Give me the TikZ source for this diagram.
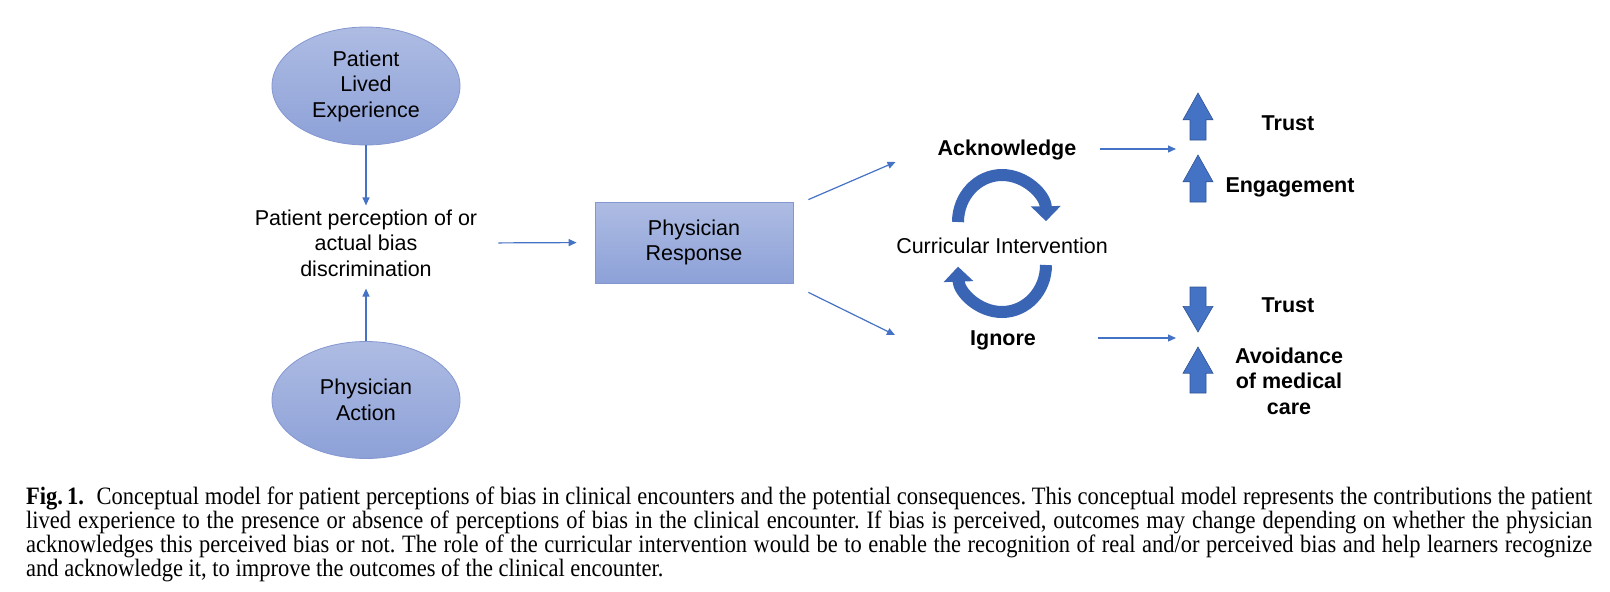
\documentclass[tikz,border=0pt]{standalone}
\usepackage{fontspec}
\setmainfont{Liberation Sans}
\newfontfamily\capfont[FakeStretch=0.9]{Liberation Serif}
\usetikzlibrary{shapes.geometric, arrows.meta, calc}

\definecolor{lineblue}{HTML}{4472C4}
\definecolor{filltop}{HTML}{AEBCE3}
\definecolor{fillbot}{HTML}{8DA1D8}
\definecolor{edgeblue}{HTML}{8497D0}
\definecolor{curlblue}{HTML}{3A64B4}
\definecolor{blockedge}{HTML}{2F5597}

\tikzset{
  bubble/.style={ellipse, draw=edgeblue, line width=0.8pt, top color=filltop, bottom color=fillbot,
    minimum width=188pt, minimum height=118pt, inner sep=0pt, align=center,
    font=\fontsize{21.5}{25.5}\selectfont},
  panel/.style={rectangle, draw=edgeblue, line width=0.8pt, top color=filltop, bottom color=fillbot,
    minimum width=198pt, minimum height=81pt, inner sep=0pt, align=center,
    font=\fontsize{21.5}{25.5}\selectfont},
  plaintext/.style={align=center, inner sep=0pt, font=\fontsize{21.5}{25.5}\selectfont},
  boldtext/.style={align=center, inner sep=0pt, font=\fontsize{21.5}{25.5}\selectfont\bfseries},
  link/.style={draw=lineblue, line width=1.2pt, -{Triangle[length=8pt,width=7pt]}},
  curl/.style={draw=curlblue, line width=12pt, -{Triangle[length=15pt,width=29pt]}},
  block/.style={fill=lineblue, draw=blockedge, line width=0.6pt},
}

% block arrow: x, tail y, tip y
\newcommand{\blockarrow}[3]{%
  \draw[block] ({#1-8},#2) -- ({#1-8},{#3+0.57*(#2-#3)}) -- ({#1-15},{#3+0.57*(#2-#3)})
    -- (#1,#3) -- ({#1+15},{#3+0.57*(#2-#3)}) -- ({#1+8},{#3+0.57*(#2-#3)}) -- ({#1+8},#2) -- cycle;}

\begin{document}
\begin{tikzpicture}[x=1pt,y=1pt,yscale=-1,xscale=1]
\useasboundingbox (0,0) rectangle (1610,592);

%Shape: Ellipse
\node[bubble] (ple) at (366,86) {Patient\\Lived\\Experience};
%Shape: Ellipse
\node[bubble, minimum height=117pt] (pa) at (366,400) {Physician\\Action};
% Text Node
\node[plaintext] (pep) at (366,243) {Patient perception of or\\actual bias\\discrimination};
%Shape: Rectangle
\node[panel] (resp) at (694,242.5) {Physician\\Response};

% Text Node
\node[boldtext] (ack) at (1007,150) {Acknowledge};
\node[plaintext] (ci) at (1002,246) {Curricular Intervention};
\node[boldtext] (ign) at (1003,340) {Ignore};

% Text Node
\node[boldtext] (trustup) at (1288,123) {Trust};
\node[boldtext] (engage) at (1290,187) {Engagement};
\node[boldtext] (trustdown) at (1288,305) {Trust};
\node[boldtext] (avoid) at (1289,381) {Avoidance\\of medical\\care};

\coordinate (upgap) at (1176,149);
\coordinate (downgap) at (1176,338);

%Straight Lines
\draw[link, shorten >=4pt] (ple.south) -- (pep.north);
\draw[link, shorten >=12pt] (pa.north) -- (pep.south);
\draw[link, shorten <=21pt, shorten >=18pt] (pep.east) -- (resp.west);
\draw[link] ($(resp.north east)+(15,-2)$) -- ($(ack.west)+(-42,12)$);
\draw[link] ($(resp.south east)+(15,9)$) -- ($(ign.west)+(-75,-5)$);
\draw[link] ($(ack.east)+(23,-1)$) -- (upgap);
\draw[link] ($(ign.east)+(62,-2)$) -- (downgap);

%Shape: Curved Arrows
\draw[curl] (958,222) arc[start angle=180, end angle=359, x radius=44, y radius=47];
\draw[curl] (1046,265) arc[start angle=0, end angle=178, x radius=44, y radius=47];

%Shape: Block Arrows
\blockarrow{1198}{140}{93}
\blockarrow{1198}{202}{155}
\blockarrow{1198}{287}{332}
\blockarrow{1198}{393}{347}

% Caption
\node[anchor=north west, inner sep=0pt, text width=1566pt, align=justify,
  font=\capfont\fontsize{25}{24}\selectfont\frenchspacing] (caption) at (26,487)
  {\textbf{Fig.\,1.}\enspace Conceptual model for patient perceptions of bias in clinical encounters and the potential consequences. This conceptual model represents the contributions the patient\linebreak
  lived experience to the presence or absence of perceptions of bias in the clinical encounter. If bias is perceived, outcomes may change depending on whether the physician\linebreak
  acknowledges this perceived bias or not. The role of the curricular intervention would be to enable the recognition of real and/or perceived bias and help learners recognize\linebreak
  and acknowledge it, to improve the outcomes of the clinical encounter.};

\end{tikzpicture}
\end{document}
